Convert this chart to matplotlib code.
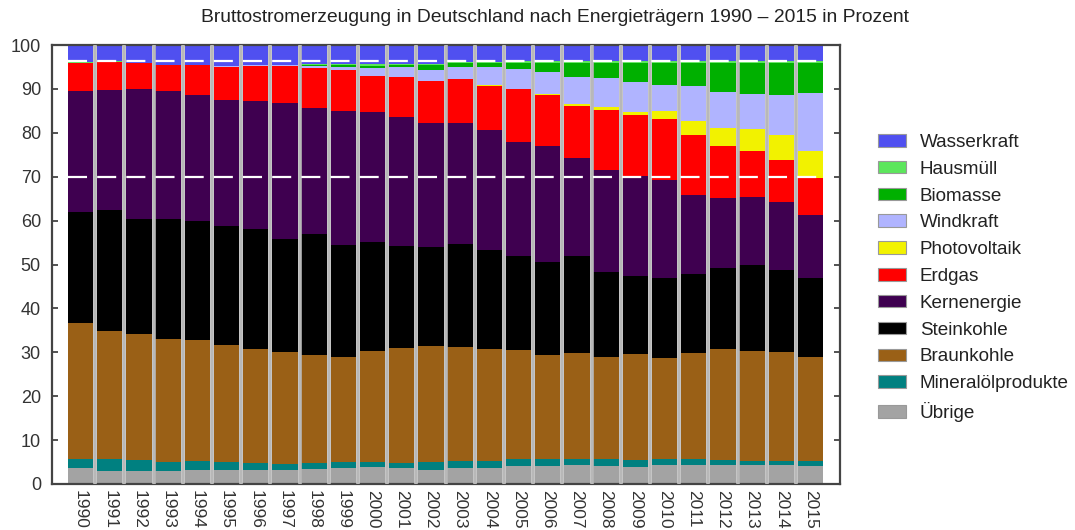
import numpy as np
import matplotlib
matplotlib.use("Agg")
import matplotlib.pyplot as plt
from matplotlib.patches import Patch

plt.rcParams['font.family'] = ['Liberation Sans', 'DejaVu Sans']
plt.rcParams['lines.scale_dashes'] = False

years = [str(y) for y in range(1990, 2016)]

# shares in percent, bottom to top
uebrige = [3.6, 3.0, 3.0, 3.0, 3.3, 3.3, 3.2, 3.2, 3.5, 3.7, 3.8, 3.6, 3.3,
           3.6, 3.6, 4.1, 4.2, 4.3, 4.1, 3.8, 4.3, 4.3, 4.3, 4.3, 4.3, 4.2]
mineraloel = [2.0, 2.8, 2.5, 1.9, 2.0, 1.8, 1.5, 1.4, 1.2, 1.2, 1.3, 1.1, 1.6,
              1.6, 1.7, 1.7, 1.6, 1.5, 1.5, 1.7, 1.5, 1.3, 1.2, 1.0, 1.0, 1.0]
braunkohle = [31.0, 29.1, 28.7, 28.1, 27.5, 26.5, 26.0, 25.5, 24.7, 24.1, 25.2, 26.3, 26.5,
              25.9, 25.5, 24.7, 23.6, 24.1, 23.4, 24.1, 22.8, 24.3, 25.3, 25.1, 24.7, 23.8]
steinkohle = [25.4, 27.5, 26.1, 27.3, 27.0, 27.2, 27.3, 25.6, 27.5, 25.5, 24.9, 23.3, 22.7,
              23.6, 22.5, 21.4, 21.2, 22.1, 19.2, 17.8, 18.3, 17.9, 18.3, 19.6, 18.7, 18.0]
kernenergie = [27.6, 27.3, 29.6, 29.2, 28.8, 28.7, 29.2, 31.0, 28.7, 30.5, 29.6, 29.4, 28.2,
               27.5, 27.3, 26.1, 26.3, 22.2, 23.3, 22.8, 22.3, 18.0, 16.0, 15.4, 15.6, 14.2]
erdgas = [6.4, 6.5, 5.9, 5.9, 6.8, 7.6, 8.1, 8.5, 9.2, 9.3, 8.1, 9.1, 9.6,
          10.0, 10.1, 11.9, 11.7, 11.8, 13.7, 13.8, 14.0, 13.8, 11.8, 10.5, 9.5, 8.5]
photovoltaik = [0, 0, 0, 0, 0, 0, 0, 0, 0, 0, 0, 0, 0,
                0, 0.1, 0.1, 0.3, 0.5, 0.6, 0.8, 1.7, 3.2, 4.3, 4.9, 5.7, 6.1]
windkraft = [0, 0, 0, 0, 0, 0.1, 0.1, 0.2, 0.5, 0.8, 1.9, 2.1, 2.5,
             2.8, 4.2, 4.5, 4.9, 6.3, 6.6, 6.7, 6.1, 7.9, 8.0, 8.0, 9.2, 13.3]
biomasse = [0, 0, 0, 0, 0, 0, 0, 0, 0.2, 0.3, 0.5, 0.5, 1.0,
            0.8, 0.9, 1.5, 2.2, 3.2, 3.6, 4.5, 5.0, 5.3, 6.8, 7.2, 7.3, 6.9]
hausmuell = [0.1, 0.1, 0.1, 0.1, 0.1, 0.1, 0.1, 0.1, 0.2, 0.2, 0.3, 0.3, 0.3,
             0.3, 0.3, 0.3, 0.3, 0.3, 0.3, 0.3, 0.3, 0.3, 0.3, 0.3, 0.3, 0.3]
wasserkraft = [3.9, 3.7, 4.1, 4.5, 4.5, 4.7, 4.5, 4.5, 4.3, 4.4, 4.4, 4.3, 4.3,
               3.9, 3.8, 3.7, 3.7, 3.7, 3.7, 3.7, 3.7, 3.7, 3.7, 3.7, 3.7, 3.7]

series = [
    ("Übrige", uebrige, "#a3a3a3"),
    ("Mineralölprodukte", mineraloel, "#008080"),
    ("Braunkohle", braunkohle, "#9a6016"),
    ("Steinkohle", steinkohle, "#000000"),
    ("Kernenergie", kernenergie, "#3f0050"),
    ("Erdgas", erdgas, "#ff0000"),
    ("Photovoltaik", photovoltaik, "#f2f200"),
    ("Windkraft", windkraft, "#b0b4ff"),
    ("Biomasse", biomasse, "#00b000"),
    ("Hausmüll", hausmuell, "#5ce65c"),
    ("Wasserkraft", wasserkraft, "#5050f0"),
]

fig = plt.figure(figsize=(10.75, 5.3), dpi=100)
ax = fig.add_axes([52 / 1075, 1 - 484 / 530, 788 / 1075, 439 / 530])

x = np.arange(len(years))
bottom = np.zeros(len(years))
for name, vals, col in series:
    vals = np.array(vals)
    ax.bar(x, vals, width=0.87, bottom=bottom, color=col, linewidth=0)
    bottom += vals

# gray separators between bars
for i in range(len(years) - 1):
    ax.axvline(i + 0.5, color="#b8b8b8", lw=2.6, zorder=3)

# white dashed lines
for yv in (70, 96.4):
    ax.plot([-0.435, 25.8], [yv, yv], color="white", lw=1.6,
            dashes=(13.7, 7.3), zorder=4, solid_capstyle="butt")

ax.set_xlim(-0.976, 26.01)
ax.set_ylim(0, 100)
ax.set_yticks(range(0, 101, 10))
ax.set_xticks(x)
ax.set_xticklabels(years, rotation=-90, fontsize=12.5, color="#333333")
ax.tick_params(axis="x", length=0, pad=4)
ax.tick_params(axis="y", direction="in", length=4, width=1.3, right=True,
               labelsize=13, labelcolor="#333333", color="#444444", pad=8)
for sp in ax.spines.values():
    sp.set_color("#444444")
    sp.set_linewidth(1.6)

fig.text(555 / 1075, 1 - 18 / 530, "Bruttostromerzeugung in Deutschland nach Energieträgern 1990 – 2015 in Prozent",
         ha="center", va="center", fontsize=13.9, color="#222222")

handles = [Patch(facecolor=col, edgecolor="#999999", lw=0.8, label=name)
           for name, vals, col in series[::-1]]
fig.legend(handles=handles, loc="center left", bbox_to_anchor=(878 / 1075, 1 - 278 / 530),
           frameon=False, fontsize=13.6, handlelength=1.5, handleheight=0.65,
           handletextpad=0.72, labelspacing=0.52, borderpad=0, borderaxespad=0,
           labelcolor="#222222")

fig.savefig("out.png", dpi=100)
